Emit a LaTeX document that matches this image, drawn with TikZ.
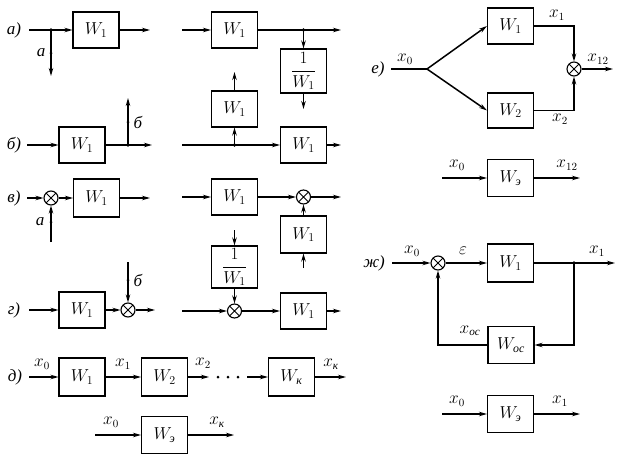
\documentclass[tikz,border=0pt]{standalone}
\usepackage{amsmath}
\usepackage{fontspec}
\newfontfamily\cyr{Liberation Serif}
\usetikzlibrary{arrows.meta}
\newcommand{\cy}[1]{\text{\cyr\itshape #1}}
\begin{document}
\begin{tikzpicture}[x=1pt,y=-1pt, line width=1.2pt,
 >={Stealth[length=8pt,width=4.5pt]},
 blk/.style={draw, line width=1.1pt, minimum width=46pt, minimum height=36pt, inner sep=0pt, font=\fontsize{17}{20}\selectfont},
 sumn/.style={draw, circle, minimum size=14pt, inner sep=0pt, line width=1.1pt,
   path picture={\draw[line width=0.9pt] (path picture bounding box.north west) -- (path picture bounding box.south east)
     (path picture bounding box.south west) -- (path picture bounding box.north east);}},
 lab/.style={font=\fontsize{16}{19}\selectfont, inner sep=0pt},
 sec/.style={font=\cyr\itshape\fontsize{17}{20}\selectfont, inner sep=0pt},
 dotn/.style={circle, fill, inner sep=0pt, minimum size=3.8pt},
 sdot/.style={circle, fill, inner sep=0pt, minimum size=3pt},
]
\useasboundingbox (0,0) rectangle (623,466);

% ---- a) left
\node[sec] (la) at (14,30) {а)};
\coordinate (a0) at (29,30);
\node[blk] (A1) at (96,30) {$W_1$};
\coordinate (ab) at (51,30);
\coordinate (ad) at (51,76);
\coordinate (ao) at (150,30);
\draw[->] (a0) -- (A1);
\draw[->] (A1) -- (ao);
\draw[->] (ab) -- (ad);
\node[dotn] (abd) at (ab) {};
\node[sdot] (aad) at (51,53) {};
\node[sec] (aal) at (41,53) {а};

% ---- a) right
\coordinate (r0) at (182,30);
\node[blk] (A2) at (234.5,30) {$W_1$};
\coordinate (rb) at (303.5,30);
\coordinate (ro) at (341,30);
\node[blk, minimum height=44pt] (A3) at (303.5,71) {$\displaystyle\frac{1}{W_1}$};
\coordinate (A3o) at (303.5,109);
\draw[->] (r0) -- (A2);
\draw[->] (A2) -- (ro);
\draw[->] (rb) -- (A3);
\draw[->] (A3) -- (A3o);
\node[dotn] (rbd) at (rb) {};

% ---- b) right
\node[blk] (B2) at (234.5,109) {$W_1$};
\coordinate (B2o) at (234.5,72);
\draw[->] (B2) -- (B2o);
\coordinate (s0) at (182,145);
\coordinate (sb) at (234.5,145);
\node[blk] (B3) at (303.5,145) {$W_1$};
\coordinate (so) at (341,145);
\draw[->] (s0) -- (B3);
\draw[->] (sb) -- (B2);
\draw[->] (B3) -- (so);
\node[dotn] (sbd) at (sb) {};

% ---- b) left
\node[sec] (lb) at (14,145) {б)};
\coordinate (b0) at (27,145);
\node[blk] (B1) at (82,145) {$W_1$};
\coordinate (bb) at (128,145);
\coordinate (bo) at (152,145);
\coordinate (bu) at (128,98);
\draw[->] (b0) -- (B1);
\draw[->] (B1) -- (bo);
\draw[->] (bb) -- (bu);
\node[dotn] (bbd) at (bb) {};
\node[sdot] (bld) at (128,122) {};
\node[sec] (bll) at (138,122) {б};

% ---- v) left
\node[sec] (lv) at (14,198) {в)};
\coordinate (v0) at (27,198);
\node[sumn] (S1) at (51,198) {};
\node[blk, minimum height=38pt] (V1) at (96.5,198) {$W_1$};
\coordinate (vo) at (150,198);
\coordinate (vi) at (51,242);
\draw[->] (v0) -- (S1);
\draw[->] (S1) -- (V1);
\draw[->] (V1) -- (vo);
\draw[->] (vi) -- (S1);
\node[sdot] (vld) at (51,222) {};
\node[sec] (vll) at (40,222) {а};

% ---- v) right
\coordinate (w0) at (182,197);
\node[blk] (V2) at (234.5,197) {$W_1$};
\node[sumn] (S2) at (303.5,197) {};
\coordinate (wo) at (341,197);
\node[blk, minimum height=37pt] (V3) at (303.5,234.5) {$W_1$};
\coordinate (wi) at (303.5,268);
\draw[->] (w0) -- (V2);
\draw[->] (V2) -- (S2);
\draw[->] (S2) -- (wo);
\draw[->] (V3) -- (S2);
\draw[->] (wi) -- (V3);

% ---- g) left
\node[sec] (lg) at (14,310) {г)};
\coordinate (g0) at (29,310);
\node[blk] (G1) at (82,310) {$W_1$};
\node[sumn] (S3) at (128,310) {};
\coordinate (go) at (155,310);
\coordinate (gi) at (128,262);
\draw[->] (g0) -- (G1);
\draw[->] (G1) -- (S3);
\draw[->] (S3) -- (go);
\draw[->] (gi) -- (S3);
\node[sdot] (gld) at (128,280) {};
\node[sec] (gll) at (138,280) {б};

% ---- g) right
\coordinate (h0) at (182,311);
\node[sumn] (S4) at (234.5,311) {};
\node[blk, minimum height=42pt] (G2) at (234.5,267) {$\displaystyle\frac{1}{W_1}$};
\coordinate (hi) at (234.5,230);
\node[blk] (G3) at (303.5,311) {$W_1$};
\coordinate (ho) at (341,311);
\draw[->] (hi) -- (G2);
\draw[->] (G2) -- (S4);
\draw[->] (h0) -- (S4);
\draw[->] (S4) -- (G3);
\draw[->] (G3) -- (ho);

% ---- d)
\node[sec] (ld) at (15,377) {д)};
\coordinate (d0) at (29,377);
\node[blk, minimum height=38pt] (D1) at (82,377) {$W_1$};
\node[blk, minimum height=38pt] (D2) at (164.5,377) {$W_2$};
\coordinate (d2e) at (209,377);
\node[sdot] (dd1) at (218,377) {};
\node[sdot] (dd2) at (228,377) {};
\node[sdot] (dd3) at (238,377) {};
\coordinate (d3s) at (247,377);
\node[blk, minimum height=38pt] (DK) at (291.5,377) {$W_{\cy{к}}$};
\coordinate (do) at (346,377);
\draw[->] (d0) -- (D1);
\draw[->] (D1) -- (D2);
\draw[->] (D2) -- (d2e);
\draw[->] (d3s) -- (DK);
\draw[->] (DK) -- (do);
\node[lab] (dx0) at (42,364) {$x_0$};
\node[lab] (dx1) at (123,364) {$x_1$};
\node[lab] (dx2) at (203,363) {$x_2$};
\node[lab] (dxk) at (331,364) {$x_{\cy{к}}$};

\coordinate (e0) at (95,435);
\node[blk, minimum height=37pt] (D3) at (164.5,435) {$W_{\cy{э}}$};
\coordinate (eo) at (234,435);
\draw[->] (e0) -- (D3);
\draw[->] (D3) -- (eo);
\node[lab] (ex0) at (111,422) {$x_0$};
\node[lab] (exk) at (217,422) {$x_{\cy{к}}$};

% ---- e)
\node[sec] (le) at (378,69) {е)};
\coordinate (f0) at (391,69);
\coordinate (fs) at (427,69);
\node[blk] (E1) at (510.5,26) {$W_1$};
\node[blk, minimum height=35pt] (E2) at (510.5,110.5) {$W_2$};
\node[sumn] (S5) at (574,69) {};
\coordinate (fo) at (613,69);
\draw (f0) -- (fs);
\draw[->, line width=1.5pt] (fs) -- (E1.west);
\draw[->, line width=1.5pt] (fs) -- (E2.west);
\draw[->] (E1) -| (S5);
\draw[->] (E2) -| (S5);
\draw[->] (S5) -- (fo);
\node[lab] (fx0) at (405,59) {$x_0$};
\node[lab] (fx1) at (557,15) {$x_1$};
\node[lab] (fx2) at (560,119) {$x_2$};
\node[lab] (fx12) at (598,59) {$x_{12}$};

\coordinate (k0) at (442,178);
\node[blk, minimum height=37pt] (E3) at (510.5,178) {$W_{\cy{э}}$};
\coordinate (ko) at (580,178);
\draw[->] (k0) -- (E3);
\draw[->] (E3) -- (ko);
\node[lab] (kx0) at (457,165) {$x_0$};
\node[lab] (kx12) at (567,165) {$x_{12}$};

% ---- zh)
\node[sec] (lz) at (374,263) {ж)};
\coordinate (z0) at (392,263);
\node[sumn] (S6) at (438,263) {};
\node[blk, minimum height=38pt] (Z1) at (510.5,263) {$W_1$};
\coordinate (zb) at (574,263);
\coordinate (zo) at (615,263);
\node[blk, minimum height=37pt] (Z2) at (511,345) {$W_{\cy{ос}}$};
\draw[->] (z0) -- (S6);
\draw[->] (S6) -- (Z1);
\draw[->] (Z1) -- (zo);
\draw[->] (zb) |- (Z2);
\draw[->] (Z2) -| (S6);
\node[dotn] (zbd) at (zb) {};
\node[lab] (zx0) at (412,251) {$x_0$};
\node[lab] (zeps) at (463,251) {$\varepsilon$};
\node[lab] (zx1) at (597,251) {$x_1$};
\node[lab] (zxoc) at (470,331) {$x_{\cy{ос}}$};

\coordinate (m0) at (442,414);
\node[blk, minimum height=37pt] (Z3) at (510.5,414) {$W_{\cy{э}}$};
\coordinate (mo) at (580,414);
\draw[->] (m0) -- (Z3);
\draw[->] (Z3) -- (mo);
\node[lab] (mx0) at (457,401) {$x_0$};
\node[lab] (mx1) at (560,401) {$x_1$};
\end{tikzpicture}
\end{document}
